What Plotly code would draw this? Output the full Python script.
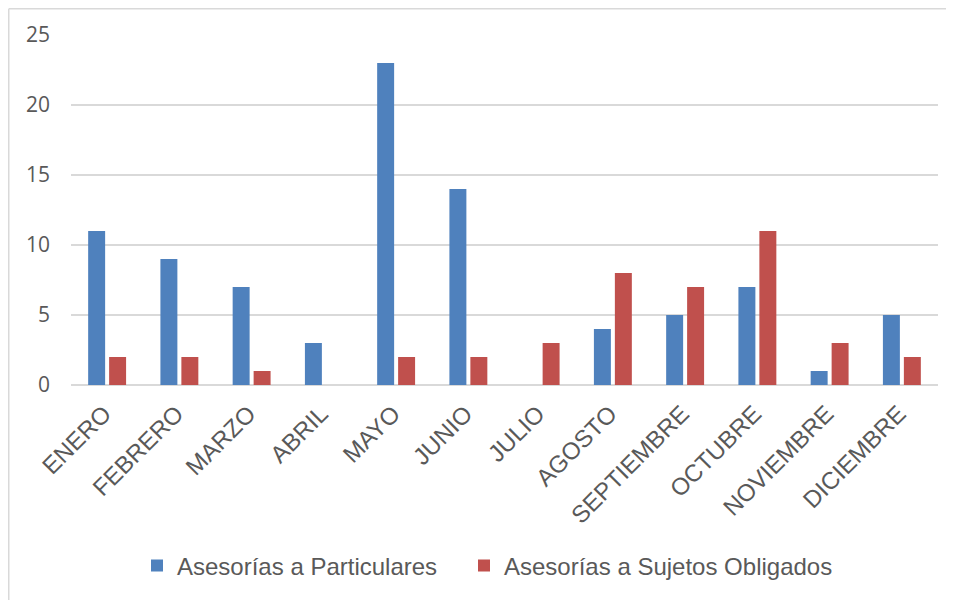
import plotly.graph_objects as go

MONTHS = ["ENERO", "FEBRERO", "MARZO", "ABRIL", "MAYO", "JUNIO", "JULIO",
          "AGOSTO", "SEPTIEMBRE", "OCTUBRE", "NOVIEMBRE", "DICIEMBRE"]
PARTICULARES = [11, 9, 7, 3, 23, 14, 0, 4, 5, 7, 1, 5]
SUJETOS = [2, 2, 1, 0, 2, 2, 3, 8, 7, 11, 3, 2]
Y_TICKS = [0, 5, 10, 15, 20, 25]

GRAY_TEXT = "#595959"
GRID = "#D9D9D9"
LEGEND_FONT = dict(family="Liberation Sans", size=24, color=GRAY_TEXT)

# page body has an 8px margin, so the figure sits 8px in from the window corner
W, H = 946, 592
L, R, T, B = 63, 16, 27, 215
PW, PH = W - L - R, H - T - B


def px_x(x):
    return (x - L) / PW


def px_y(y):
    return (T + PH - y) / PH


fig = go.Figure()
fig.add_trace(go.Bar(
    x=MONTHS, y=PARTICULARES, name="Asesorías a Particulares", legend="legend",
    marker=dict(color="#4F81BD", line=dict(width=0)),
))
fig.add_trace(go.Bar(
    x=MONTHS, y=SUJETOS, name="Asesorías a Sujetos Obligados", legend="legend2",
    marker=dict(color="#C0504D", line=dict(width=0)),
))

fig.update_layout(
    width=W, height=H,
    margin=dict(l=L, r=R, t=T, b=B, autoexpand=False),
    paper_bgcolor="white", plot_bgcolor="white",
    barmode="group", bargap=0.42, bargroupgap=0.19,
    showlegend=True,
    legend=dict(orientation="h", x=px_x(129), xanchor="left", y=px_y(558), yanchor="middle",
                font=LEGEND_FONT, itemwidth=30, bgcolor="rgba(0,0,0,0)"),
    legend2=dict(orientation="h", x=px_x(456), xanchor="left", y=px_y(558), yanchor="middle",
                 font=LEGEND_FONT, itemwidth=30, bgcolor="rgba(0,0,0,0)"),
    xaxis=dict(tickangle=-45, showgrid=False, showline=False, ticks="", automargin=False,
               ticklabelstandoff=9, ticklabelshift=-3,
               tickfont=dict(family="Liberation Sans", size=24, color=GRAY_TEXT)),
    yaxis=dict(range=[0, 25], tickvals=Y_TICKS, showgrid=True, gridcolor=GRID, gridwidth=1.5,
               zeroline=True, zerolinecolor=GRID, zerolinewidth=1.5, showline=False,
               ticks="", ticklabelstandoff=20, automargin=False,
               tickfont=dict(family="Open Sans", size=21, color=GRAY_TEXT)),
    # chart frame: only the top and left edges fall inside the window
    shapes=[
        dict(type="line", xref="paper", yref="paper",
             x0=px_x(0.75), x1=px_x(W), y0=px_y(0.75), y1=px_y(0.75),
             line=dict(color=GRID, width=1.5)),
        dict(type="line", xref="paper", yref="paper",
             x0=px_x(0.75), x1=px_x(0.75), y0=px_y(0.75), y1=px_y(H),
             line=dict(color=GRID, width=1.5)),
    ],
)

fig.write_html("out.html")
